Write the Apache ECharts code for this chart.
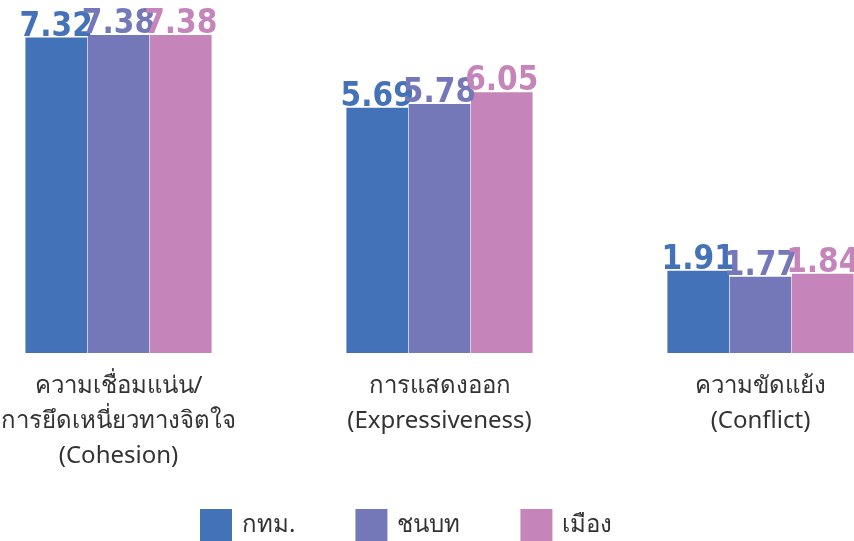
<!DOCTYPE html>
<html>
<head>
  <meta charset="UTF-8">
  <title>Family functioning</title>
  <script src="https://cdn.jsdelivr.net/npm/echarts@6/dist/echarts.min.js"></script>
  <style>
    html, body { margin: 0; padding: 0; background: #fff; }
    #chart { width: 854px; height: 541px; }
  </style>
</head>
<body>
  <div id="chart"></div>
  <script>
    const categories = [
      'ความเชื่อมแน่น/\nการยึดเหนี่ยวทางจิตใจ\n(Cohesion)',
      'การแสดงออก\n(Expressiveness)',
      'ความขัดแย้ง\n(Conflict)'
    ];
    const seriesNames = ['กทม.', 'ชนบท', 'เมือง'];
    const bangkok = [7.32, 5.69, 1.91];
    const rural = [7.38, 5.78, 1.77];
    const urban = [7.38, 6.05, 1.84];
    const colors = ['#4472b9', '#7478b8', '#c585ba'];

    const chart = echarts.init(document.getElementById('chart'));

    // one series per area, label coloured like its bar
    function makeSeries(name, values, color) {
      return {
        name: name,
        type: 'bar',
        data: values,
        barGap: '1%',
        barCategoryGap: '42%',
        itemStyle: { color: color },
        label: {
          show: true,
          position: 'top',
          distance: -6,
          color: color,
          fontSize: 33,
          fontWeight: 'bold',
          fontFamily: '"DejaVu Sans Condensed", sans-serif',
          formatter: p => p.value.toFixed(2)
        }
      };
    }

    chart.setOption({
      animation: false,
      color: colors,
      grid: { left: -42, top: 35, width: 963, bottom: 188, outerBoundsMode: 'none', containLabel: false },
      legend: {
        bottom: 0,
        left: 200,
        padding: 0,
        itemWidth: 32,
        itemHeight: 32,
        itemGap: 60,
        icon: 'rect',
        textStyle: { fontSize: 24, color: '#333', padding: [0, 0, 0, 5], fontFamily: '"Noto Sans", sans-serif' },
        data: seriesNames
      },
      xAxis: {
        type: 'category',
        data: categories,
        axisLine: { show: false },
        axisTick: { show: false },
        axisLabel: {
          margin: 16,
          fontSize: 24,
          lineHeight: 35,
          color: '#333',
          fontFamily: '"Noto Sans", sans-serif'
        }
      },
      yAxis: {
        type: 'value',
        min: 0,
        max: 7.38,
        show: false,
        splitLine: { show: false }
      },
      series: [
        makeSeries(seriesNames[0], bangkok, colors[0]),
        makeSeries(seriesNames[1], rural, colors[1]),
        makeSeries(seriesNames[2], urban, colors[2])
      ]
    });
  </script>
</body>
</html>
